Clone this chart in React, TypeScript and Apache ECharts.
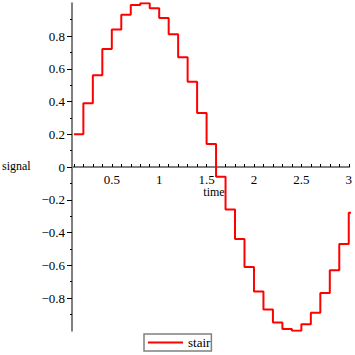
import React, { useEffect, useRef } from "react";
import * as echarts from "echarts";

// sample times and the held signal values
const times = [0.1, 0.2, 0.3, 0.4, 0.5, 0.6, 0.7, 0.8, 0.9, 1.0, 1.1, 1.2, 1.3, 1.4, 1.5, 1.6, 1.7, 1.8, 1.9, 2.0, 2.1, 2.2, 2.3, 2.4, 2.5, 2.6, 2.7, 2.8, 2.9, 3.0, 3.1];
const signal = [0.2, 0.39, 0.56, 0.72, 0.84, 0.93, 0.99, 1.0, 0.97, 0.91, 0.81, 0.67, 0.52, 0.33, 0.14, -0.06, -0.26, -0.44, -0.61, -0.76, -0.87, -0.95, -0.99, -1.0, -0.96, -0.89, -0.77, -0.63, -0.47, -0.28, -0.08];

const xLabels = [0.5, 1, 1.5, 2, 2.5, 3];
const xTicks = [0.1, 0.2, 0.3, 0.4, 0.5, 0.6, 0.7, 0.8, 0.9, 1.0, 1.1, 1.2, 1.3, 1.4, 1.5, 1.6, 1.7, 1.8, 1.9, 2.0, 2.1, 2.2, 2.3, 2.4, 2.5, 2.6, 2.7, 2.8, 2.9, 3.0];
const yLabels = [-0.8, -0.6, -0.4, -0.2, 0, 0.2, 0.4, 0.6, 0.8];

const FONT = "Liberation Serif";

export default function App() {
  const ref = useRef<HTMLDivElement>(null);
  useEffect(() => {
    if (!ref.current) return;
    const chart = echarts.init(ref.current, null, { renderer: "svg" });
    const fmtY = (v: number) => {
      if (Math.abs(v) < 1e-9) return "0";
      const s = Math.abs(v).toFixed(1);
      return v < 0 ? "\u2212" + s : s;
    };
    chart.setOption({
      animation: false,
      backgroundColor: "#ffffff",
      textStyle: { fontFamily: FONT },
      grid: { left: 72, top: 3.25, height: 327.5, right: 0 },
      xAxis: {
        type: "value",
        min: 0.08,
        max: 3.005,
        offset: -163.75,
        axisLine: { onZero: false, lineStyle: { color: "#808080", width: 2 } },
        axisTick: {
          show: true,
          inside: true,
          length: 3,
          customValues: xTicks,
          lineStyle: { color: "#000", width: 1 },
        },
        axisLabel: {
          customValues: xLabels,
          color: "#000",
          fontSize: 13,
          fontFamily: FONT,
          margin: 6,
          showMaxLabel: true,
          formatter: (v: number) => String(Math.round(v * 10) / 10),
        },
        splitLine: { show: false },
      },
      yAxis: {
        type: "value",
        min: -1,
        max: 1,
        interval: 0.2,
        axisLine: { show: true, lineStyle: { color: "#808080", width: 2 } },
        axisTick: {
          show: true,
          length: 5,
          customValues: yLabels,
          lineStyle: { color: "#000", width: 1 },
        },
        minorTick: { show: true, splitNumber: 2, length: 2, lineStyle: { color: "#000", width: 1 } },
        axisLabel: {
          customValues: yLabels,
          color: "#000",
          fontSize: 13,
          fontFamily: FONT,
          margin: 7,
          formatter: fmtY,
        },
        splitLine: { show: false },
      },
      legend: {
        left: 144,
        top: 334,
        padding: [2, 1, 2, 4],
        itemWidth: 35,
        itemHeight: 2,
        borderColor: "#808080",
        borderWidth: 1.5,
        borderRadius: 0,
        textStyle: { color: "#000", fontSize: 13, fontFamily: FONT },
        data: [{ name: "stair", icon: "rect" }],
      },
      graphic: [
        {
          type: "text",
          left: 2,
          top: 160,
          style: { text: "signal", fill: "#000", font: "12px " + FONT },
        },
        {
          type: "text",
          x: 214,
          y: 192,
          style: { text: "time", fill: "#000", font: "12px " + FONT, textAlign: "center", textVerticalAlign: "middle" },
        },
      ],
      series: [
        {
          name: "stair",
          type: "line",
          step: "end",
          symbol: "none",
          clip: true,
          lineStyle: { color: "#ff0000", width: 2 },
          itemStyle: { color: "#ff0000" },
          data: times.map((t, i) => [t, signal[i]]),
        },
      ],
    });
    return () => chart.dispose();
  }, []);
  return (
    <div
      ref={ref}
      style={{ position: "fixed", left: 0, top: 0, width: 355, height: 355 }}
    />
  );
}
